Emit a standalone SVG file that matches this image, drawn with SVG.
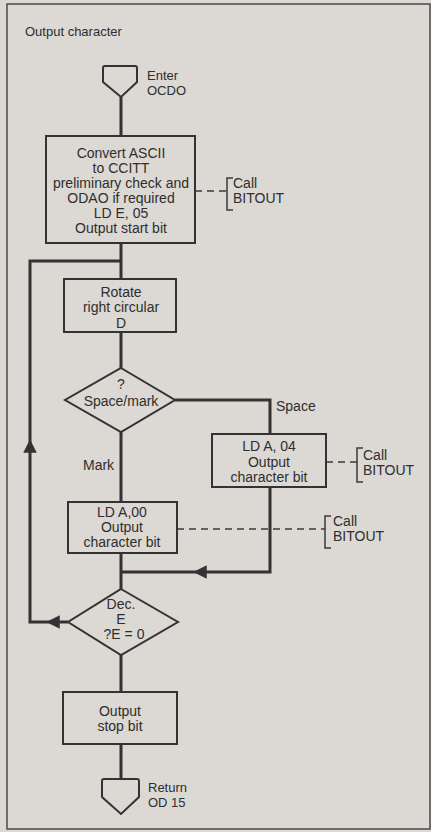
<svg xmlns="http://www.w3.org/2000/svg" width="431" height="832" viewBox="0 0 431 832">
<defs>
<style>
.bg{fill:#dcd8d3}
.frame{fill:none;stroke:#4a4a4a;stroke-width:1.5}
.box{fill:#dcd8d3;stroke:#333;stroke-width:2}
.flow{fill:none;stroke:#333;stroke-width:3}
.dash{fill:none;stroke:#3a3a3a;stroke-width:1.5;stroke-dasharray:7,5}
.brk{fill:none;stroke:#3a3a3a;stroke-width:1.5}
text{font-family:"Liberation Sans",Arial,sans-serif;font-size:14px;fill:#2e2e2e}
.c{text-anchor:middle}
.sm{font-size:13px}
</style>
<marker id="arr" viewBox="0 0 10 10" refX="5" refY="5" markerWidth="4.5" markerHeight="4.5" orient="auto" markerUnits="strokeWidth">
<path d="M0,0 L10,5 L0,10 Z" fill="#333"/>
</marker>
</defs>
<rect class="bg" x="0" y="0" width="431" height="832"/>
<rect class="frame" x="7" y="4" width="423" height="825"/>
<text class="sm" x="25" y="36">Output character</text>

<g id="connectors">
<path class="flow" d="M121,97 V136"/>
<path class="flow" d="M121,243 V279"/>
<path class="flow" d="M121,332 V368"/>
<path class="flow" d="M175,400 H270 V434"/>
<path class="flow" d="M121,432 V502"/>
<path class="flow" d="M270,487 V572 H200" marker-end="url(#arr)"/>
<path class="flow" d="M204,572 H121"/>
<path class="flow" d="M121,553 V589"/>
<path class="flow" d="M68,622 H53" marker-end="url(#arr)"/>
<path class="flow" d="M56,622 H30 V446" marker-end="url(#arr)"/>
<path class="flow" d="M30,449 V261 H121"/>
<path class="flow" d="M121,653 V692"/>
<path class="flow" d="M121,744 V779"/>
<path class="dash" d="M195,191 H227"/>
<path class="dash" d="M326,462 H357"/>
<path class="dash" d="M177,529 H325"/>
</g>

<g id="enter">
<path class="box" d="M103,82 V68 Q103,66 105,66 H135 Q137,66 137,68 V82 L121,97 Z"/>
<text class="sm" x="147" y="80">Enter</text>
<text class="sm" x="147" y="95">OCDO</text>
</g>

<g id="convert">
<rect class="box" x="46" y="136" width="149" height="107"/>
<text class="c" x="121" y="158">Convert ASCII</text>
<text class="c" x="121" y="173">to CCITT</text>
<text class="c" x="121" y="188">preliminary check and</text>
<text class="c" x="121" y="203">ODAO if required</text>
<text class="c" x="121" y="218">LD E, 05</text>
<text class="c" x="121" y="233">Output start bit</text>
</g>

<g id="call1">
<path class="brk" d="M233,178 H227 V210 H233"/>
<text x="233" y="188">Call</text>
<text x="233" y="203">BITOUT</text>
</g>

<g id="rotate">
<rect class="box" x="64" y="279" width="112" height="53"/>
<text class="c" x="121" y="297">Rotate</text>
<text class="c" x="121" y="312">right circular</text>
<text class="c" x="121" y="328">D</text>
</g>

<g id="spacemark">
<path class="box" d="M121,368 L175,400 L121,432 L65,400 Z"/>
<text class="c" x="121" y="389">?</text>
<text class="c" x="121" y="406">Space/mark</text>
</g>
<text x="276" y="411">Space</text>
<text x="83" y="470">Mark</text>

<g id="lda04">
<rect class="box" x="212" y="434" width="114" height="53"/>
<text class="c" x="269" y="451">LD A, 04</text>
<text class="c" x="269" y="467">Output</text>
<text class="c" x="269" y="482">character bit</text>
</g>

<g id="call2">
<path class="brk" d="M363,448 H357 V482 H363"/>
<text x="363" y="460">Call</text>
<text x="363" y="475">BITOUT</text>
</g>

<g id="lda00">
<rect class="box" x="68" y="502" width="109" height="51"/>
<text class="c" x="122" y="517">LD A,00</text>
<text class="c" x="122" y="532">Output</text>
<text class="c" x="122" y="547">character bit</text>
</g>

<g id="call3">
<path class="brk" d="M331,516 H325 V548 H331"/>
<text x="333" y="526">Call</text>
<text x="333" y="541">BITOUT</text>
</g>

<g id="dece">
<path class="box" d="M121,589 L178,622 L121,655 L68,622 Z"/>
<text class="c" x="121" y="609">Dec.</text>
<text class="c" x="121" y="624">E</text>
<text class="c" x="124" y="639">?E = 0</text>
</g>

<g id="stopbit">
<rect class="box" x="63" y="692" width="114" height="52"/>
<text class="c" x="120" y="716">Output</text>
<text class="c" x="120" y="731">stop bit</text>
</g>

<g id="return">
<path class="box" d="M102,797 V781 Q102,779 104,779 H137 Q139,779 139,781 V797 L121,814 Z"/>
<text class="sm" x="148" y="792">Return</text>
<text class="sm" x="148" y="807">OD 15</text>
</g>
</svg>
